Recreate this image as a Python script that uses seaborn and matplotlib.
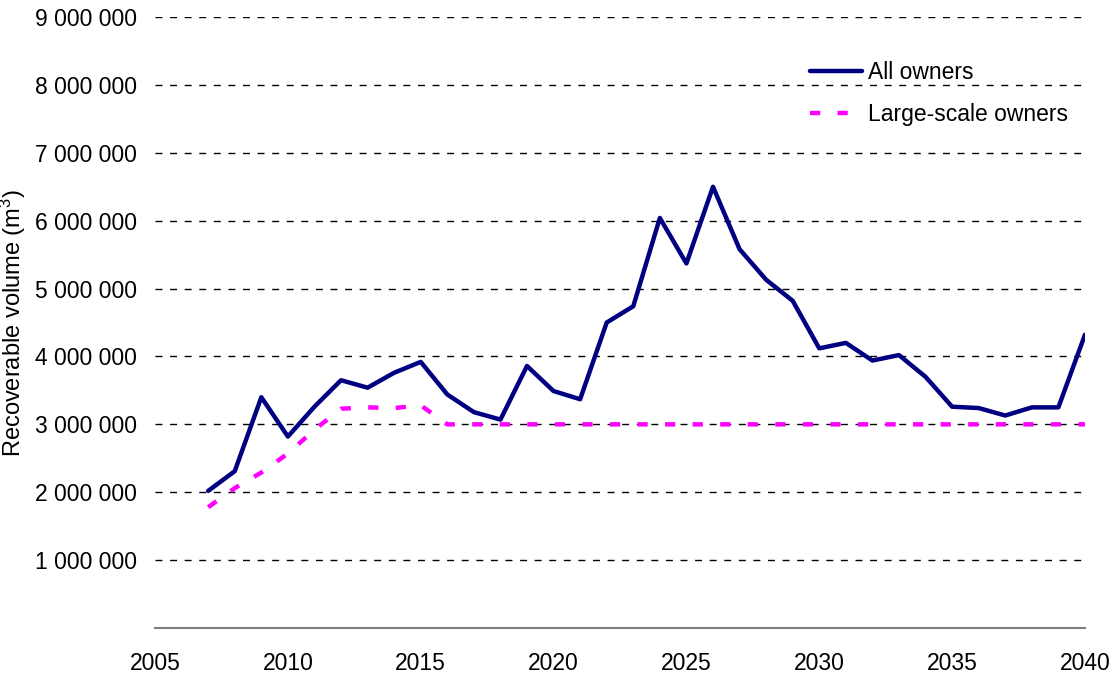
import numpy as np
import pandas as pd
import matplotlib
matplotlib.use('Agg')
import matplotlib.pyplot as plt
import seaborn as sns
from matplotlib.ticker import FuncFormatter

# data
years = list(range(2007, 2041))
all_owners = [2.02, 2.31, 3.40, 2.82, 3.26, 3.65, 3.54, 3.76, 3.92, 3.44,
              3.18, 3.07, 3.86, 3.49, 3.37, 4.50, 4.74, 6.04, 5.37, 6.50,
              5.58, 5.13, 4.82, 4.12, 4.20, 3.94, 4.02, 3.70, 3.26, 3.24,
              3.13, 3.25, 3.25, 4.32]
large_scale = [1.78, 2.06, 2.29, 2.57, 2.92, 3.23, 3.25, 3.24, 3.28, 3.00,
               3.00, 3.00, 3.00, 3.00, 3.00, 3.00, 3.00, 3.00, 3.00, 3.00,
               3.00, 3.00, 3.00, 3.00, 3.00, 3.00, 3.00, 3.00, 3.00, 3.00,
               3.00, 3.00, 3.00, 3.00]
series_names = ["All owners", "Large-scale owners"]
x_ticks = list(range(2005, 2041, 5))
y_ticks = [1e6 * k for k in range(1, 10)]

df = pd.DataFrame({
    "year": years * 2,
    "volume": [v * 1e6 for v in all_owners] + [v * 1e6 for v in large_scale],
    "owner": [series_names[0]] * len(years) + [series_names[1]] * len(years),
})

sns.set_style("white")
plt.rcParams['font.family'] = ['Liberation Sans', 'DejaVu Sans']
plt.rcParams['mathtext.default'] = 'regular'
plt.rcParams['text.color'] = 'black'
plt.rcParams['axes.labelcolor'] = 'black'

fig, ax = plt.subplots(figsize=(11.13, 6.75), dpi=100)
fig.subplots_adjust(left=0.1393, right=0.9748, top=0.9748, bottom=0.0696)

lw = 3.2
sns.lineplot(data=df, x="year", y="volume", hue="owner", style="owner",
             palette={series_names[0]: "#000080", series_names[1]: "#FF00FF"},
             dashes={series_names[0]: "", series_names[1]: (2.3, 3.9)},
             linewidth=lw, ax=ax)

ax.set_xlim(2005, 2040)
ax.set_ylim(0, 9e6)
ax.set_xticks(x_ticks)
ax.set_yticks(y_ticks)
ax.yaxis.set_major_formatter(FuncFormatter(lambda v, p: f"{int(v):,}".replace(",", " ")))
ax.tick_params(axis='both', length=0, labelsize=16.5, colors='black')
ax.tick_params(axis='x', pad=17)
ax.tick_params(axis='y', pad=13)

ax.grid(axis='y', color='black', linestyle=(0, (5, 5.5)), linewidth=1)
ax.set_axisbelow(True)
for s in ['left', 'right', 'top']:
    ax.spines[s].set_visible(False)
ax.spines['bottom'].set_color('#808080')
ax.spines['bottom'].set_linewidth(1.5)

ax.set_xlabel("")
ax.set_ylabel("Recoverable volume (m$^3$)", fontsize=17, labelpad=5, color='black')

leg = ax.legend(loc='upper left', bbox_to_anchor=(0.704, 0.928), frameon=False,
                fontsize=16.5, handlelength=2.3, handletextpad=0.25,
                labelspacing=0.85, borderaxespad=0, borderpad=0,
                labelcolor='black')
for h in leg.get_lines():
    h.set_linewidth(lw)

fig.savefig("out.png", dpi=100)
